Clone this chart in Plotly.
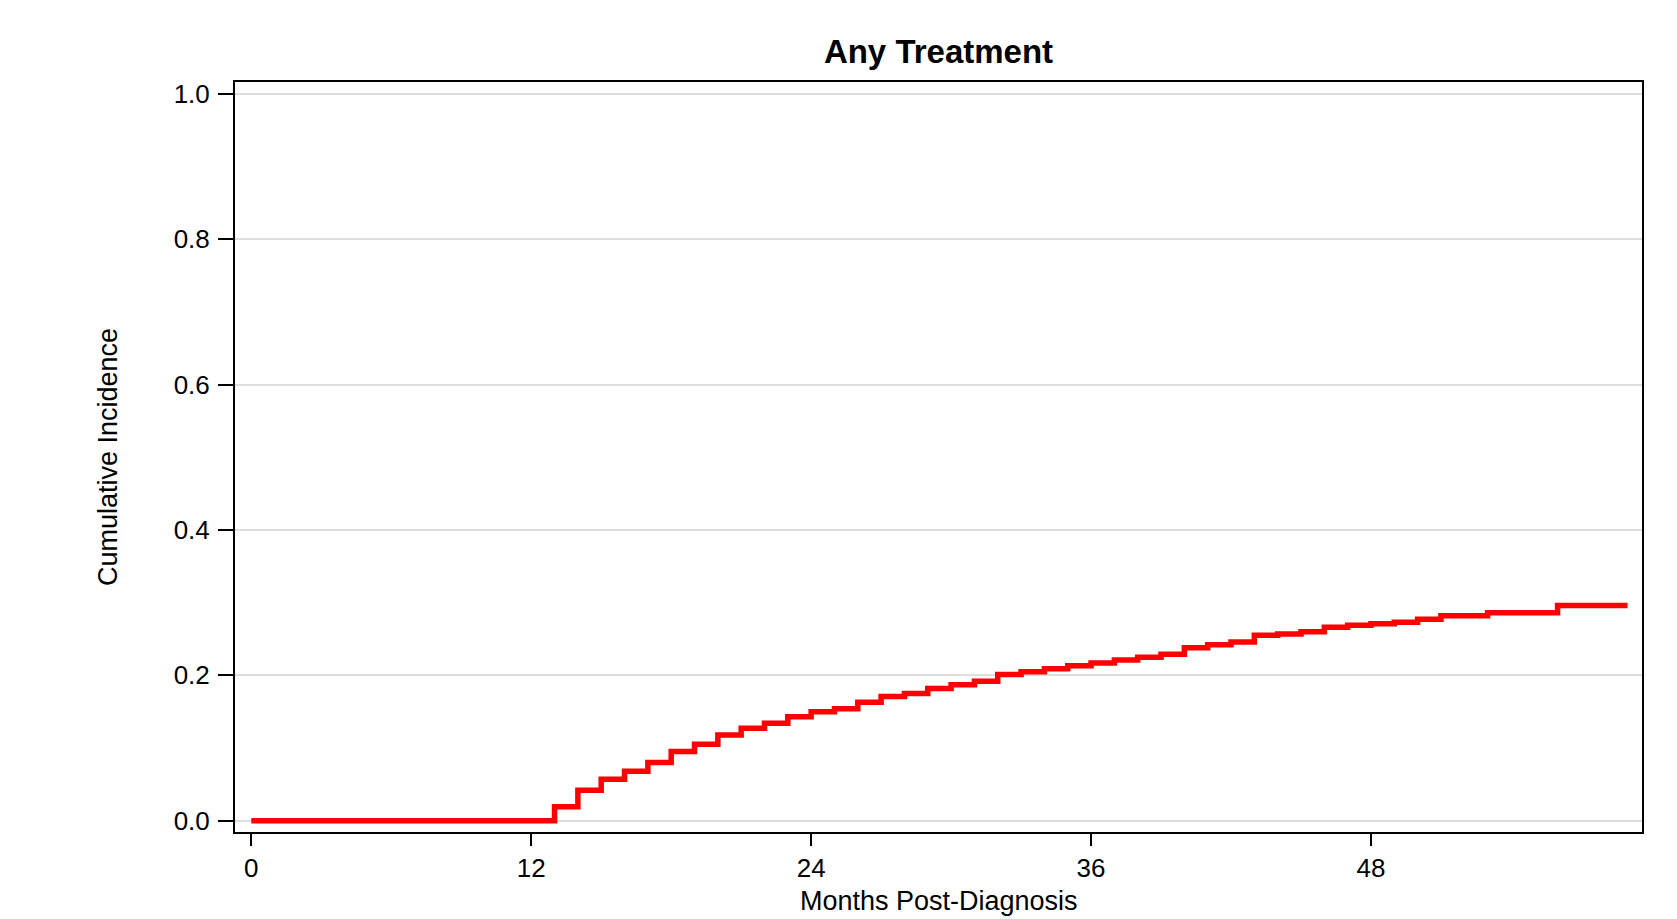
import plotly.graph_objects as go

# Months post-diagnosis at which the cumulative incidence steps up
months = [0, 13, 14, 15, 16, 17, 18, 19, 20, 21, 22, 23, 24, 25, 26, 27, 28, 29, 30,
          31, 32, 33, 34, 35, 36, 37, 38, 39, 40, 41, 42, 43, 44, 45, 46, 47, 48,
          49, 50, 51, 53, 56, 59]
# Cumulative incidence of any treatment after each step
cum_incidence = [0.000, 0.019, 0.042, 0.057, 0.068, 0.080, 0.095, 0.105, 0.118, 0.127,
                 0.134, 0.143, 0.150, 0.154, 0.163, 0.171, 0.175, 0.182, 0.187, 0.192,
                 0.201, 0.205, 0.209, 0.213, 0.217, 0.221, 0.225, 0.229, 0.238, 0.242,
                 0.246, 0.255, 0.257, 0.260, 0.266, 0.269, 0.271, 0.273, 0.277, 0.282,
                 0.286, 0.296, 0.296]

x_ticks = [0, 12, 24, 36, 48]
y_ticks = [0.0, 0.2, 0.4, 0.6, 0.8, 1.0]
y_tick_labels = ["0.0", "0.2", "0.4", "0.6", "0.8", "1.0"]

title_text = "Any Treatment"
x_title = "Months Post-Diagnosis"
y_title = "Cumulative Incidence"

FONT = "Liberation Sans, Arial, Helvetica, sans-serif"

# page body adds an 8px offset; margins compensate so the plot box sits at 235..1642 x 82..832
OFF = 8
W, H = 1677, 919
BOX_L, BOX_R, BOX_T, BOX_B = 235, 1642, 82, 832
ml, mr = BOX_L - OFF, W + OFF - BOX_R
mt, mb = BOX_T - OFF, H + OFF - BOX_B
box_w, box_h = BOX_R - BOX_L, BOX_B - BOX_T


def px_to_paper_x(px):
    return (px - BOX_L) / box_w


def px_to_paper_y(py):
    return (BOX_B - py) / box_h


fig = go.Figure()
fig.add_trace(go.Scatter(
    x=months, y=cum_incidence, mode="lines",
    line=dict(color="#ff0000", width=5.5, shape="hv"),
    showlegend=False,
))

fig.update_layout(
    width=W, height=H,
    margin=dict(l=ml, r=mr, t=mt, b=mb),
    paper_bgcolor="white", plot_bgcolor="white",
    font=dict(family=FONT, color="black"),
    title=dict(text="<b>" + title_text + "</b>",
               x=(BOX_L + BOX_R) / 2 / W - OFF / W, xanchor="center",
               yref="container", y=1 - (51 - OFF) / H, yanchor="middle",
               font=dict(size=33, family=FONT, color="black")),
    annotations=[
        dict(text=x_title, xref="paper", yref="paper",
             x=px_to_paper_x(939), y=px_to_paper_y(884), xanchor="center", yanchor="top",
             showarrow=False, font=dict(size=27, family=FONT, color="black")),
        dict(text=y_title, xref="paper", yref="paper", textangle=-90,
             x=px_to_paper_x(108), y=px_to_paper_y(457), xanchor="center", yanchor="middle",
             showarrow=False, font=dict(size=27, family=FONT, color="black")),
    ],
)

fig.update_xaxes(
    range=[-0.70, 59.62], tickvals=x_ticks, ticktext=[str(v) for v in x_ticks],
    showgrid=False, zeroline=False, automargin=False,
    showline=True, linecolor="black", linewidth=2, mirror=True,
    ticks="outside", ticklen=12, tickwidth=2, tickcolor="black",
    tickfont=dict(size=26, family=FONT, color="black"),
)
fig.update_yaxes(
    range=[-0.0156, 1.0164], tickvals=y_ticks, ticktext=y_tick_labels,
    showgrid=True, gridcolor="#dedede", gridwidth=1.5, zeroline=False, automargin=False,
    showline=True, linecolor="black", linewidth=2, mirror=True,
    ticks="outside", ticklen=15, tickwidth=2, tickcolor="black",
    ticklabelstandoff=3,
    tickfont=dict(size=26, family=FONT, color="black"),
)

fig.write_html("out.html")
